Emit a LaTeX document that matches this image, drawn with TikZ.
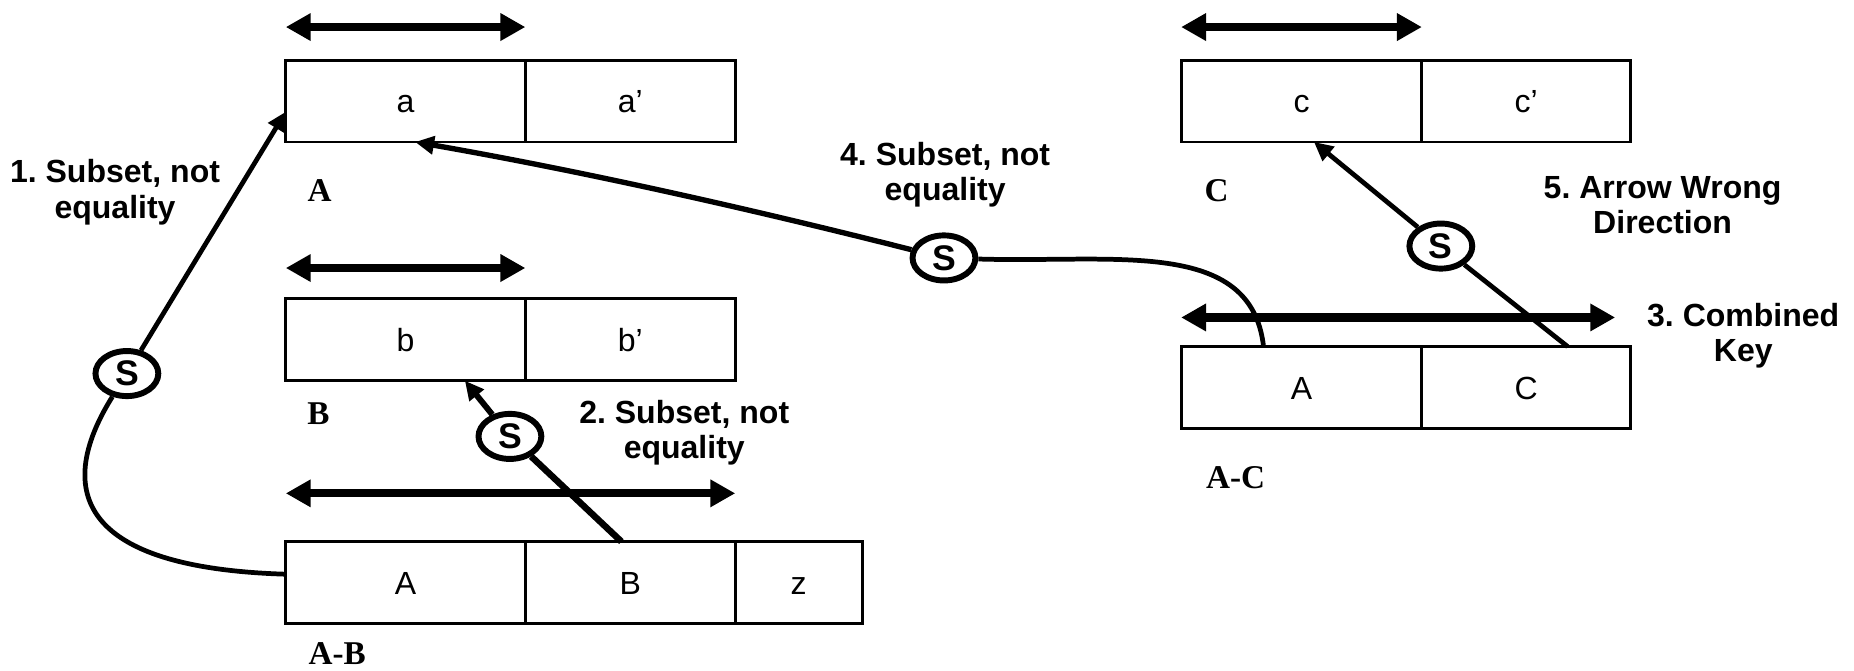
\documentclass[tikz,border=0pt]{standalone}
\usepackage{fontspec}
\setmainfont{Liberation Sans}
\newfontfamily\tnr{Liberation Serif}
\usetikzlibrary{arrows.meta,shapes.geometric}
\frenchspacing
\begin{document}
\begin{tikzpicture}[x=1pt,y=-1pt,
  cell/.style={draw, line width=2.4pt, minimum height=69pt, inner sep=0pt, outer sep=0pt,
    text height=19.5pt, text depth=0pt, font=\fontsize{27}{30}\selectfont, anchor=west},
  keyarrow/.style={line width=7pt, {Triangle[length=21pt,width=22pt]}-{Triangle[length=21pt,width=22pt]}},
  conn/.style={line width=4pt, -{Triangle[length=16pt,width=15pt]}},
  link/.style={line width=4pt},
  snode/.style={ellipse, draw, line width=5pt, minimum width=53pt, minimum height=38pt,
    inner sep=0pt, fill=white, font=\bfseries\fontsize{30}{30}\selectfont},
  lab/.style={font=\bfseries\fontsize{27}{30}\selectfont, align=center},
  tname/.style={font=\tnr\bfseries\fontsize{28}{28}\selectfont, inner sep=0pt}
]
\useasboundingbox (0,0) rectangle (1563.4,565.8);

% tables
\node[cell, minimum width=202pt] (a1) at (241,85.2) {a};
\node[cell, minimum width=177pt] (a2) at (a1.east) {a’};
\node[cell, minimum width=202pt] (b1) at (241,286.5) {b};
\node[cell, minimum width=177pt] (b2) at (b1.east) {b’};
\node[cell, minimum width=202pt] (AB1) at (241,491.2) {A};
\node[cell, minimum width=177pt] (AB2) at (AB1.east) {B};
\node[cell, minimum width=107pt] (AB3) at (AB2.east) {z};
\node[cell, minimum width=203pt] (c1) at (996,85.2) {c};
\node[cell, minimum width=176pt] (c2) at (c1.east) {c’};
\node[cell, minimum width=203pt] (AC1) at (996,326.8) {A};
\node[cell, minimum width=176pt] (AC2) at (AC1.east) {C};

% table names
\node[tname] (nA) at (269.5,161) {A};
\node[tname] (nB) at (268.6,349) {B};
\node[tname] (nAB) at (284.3,551.5) {A-B};
\node[tname] (nC) at (1026,160.5) {C};
\node[tname] (nAC) at (1042,403) {A-C};

% key arrows
\draw[keyarrow] ([yshift=62.4pt]a1.west) -- ([yshift=62.4pt]a1.east);
\draw[keyarrow] ([yshift=60.5pt]b1.west) -- ([yshift=60.5pt]b1.east);
\draw[keyarrow] ([yshift=75.2pt]AB1.west) -- ([yshift=75.2pt]AB2.east);
\draw[keyarrow] ([yshift=62.4pt]c1.west) -- ([yshift=62.4pt]c1.east);
\draw[keyarrow] ([yshift=59.1pt]AC1.west) -- ([yshift=59.1pt,xshift=-13pt]AC2.east);

% S nodes
\node[snode] (S1) at (107,315) {S};
\node[snode] (S2) at (430,368) {S};
\node[snode] (S4) at (796,217.5) {S};
\node[snode] (S5) at (1215,207.5) {S};

% connectors
\draw[link] ([yshift=7pt]AB1.west) .. controls (36,478) and (60,390) .. (S1);
\draw[conn] (S1) -- ([yshift=-9pt]a1.west);

\draw[link, line width=5.5pt] ([xshift=-7.5pt]AB2.north) -- (S2);
\draw[conn, line width=5pt] (S2) -- ([xshift=50pt]b1.south);

\draw[link] ([xshift=-32pt]AC1.north) .. controls (1055,200) and (940,222) .. (S4);
\draw[conn, line width=4.5pt] (S4) .. controls (628,175) and (489,144) .. ([xshift=8pt]a1.south);

\draw[link] ([xshift=35pt]AC2.north) -- (S5);
\draw[conn] (S5) -- ([xshift=10.5pt]c1.south);

% labels
\node[lab] (L1) at (97,162) {1. Subset, not\\equality};
\node[lab] (L2) at (577,365) {2. Subset, not\\equality};
\node[lab] (L4) at (797,147.5) {4. Subset, not\\equality};
\node[lab] (L5) at (1402,173) {5. Arrow Wrong\\Direction};
\node[lab] (L3) at (1470,283) {3. Combined\\Key};
\end{tikzpicture}
\end{document}
